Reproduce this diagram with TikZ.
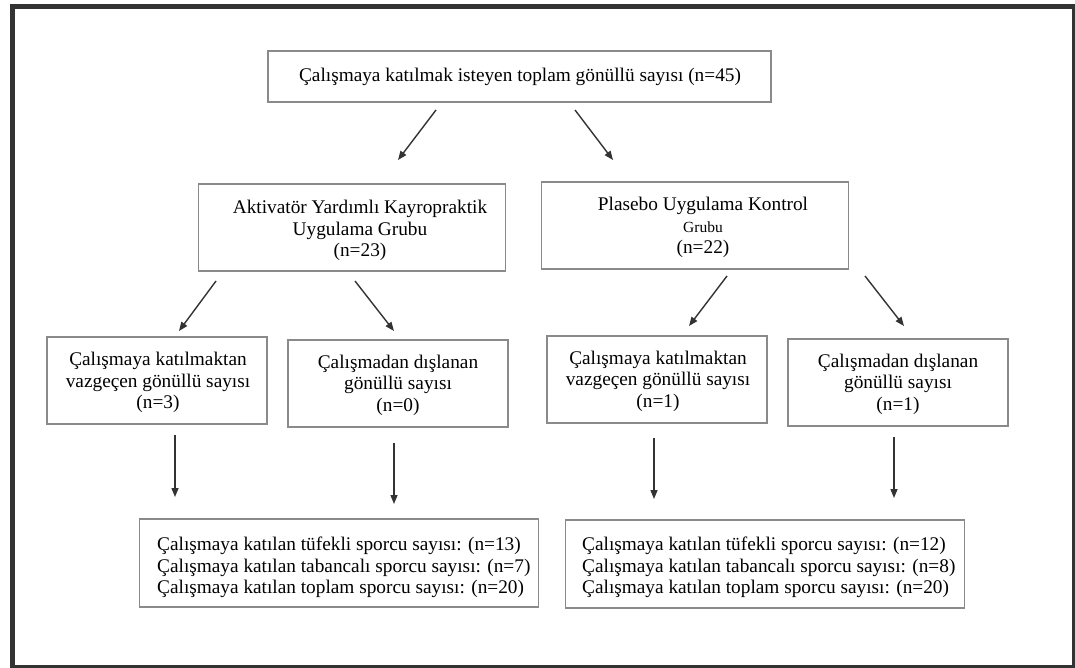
\documentclass[tikz,border=0pt]{standalone}
\usepackage{fontspec}
\setmainfont{Liberation Serif}
\usetikzlibrary{arrows.meta}
\definecolor{boxgray}{HTML}{8A8A8A}
\definecolor{arrowgray}{HTML}{333333}
\definecolor{framegray}{HTML}{333333}
\tikzset{
  boxnode/.style={draw=boxgray, line width=1.4pt, inner sep=0pt, fill=white},
  txt/.style={inner sep=0pt, align=center, font=\fontsize{19.3}{21.5}\selectfont},
  ltxt/.style={inner sep=0pt, align=left, font=\fontsize{19.3}{21.5}\selectfont},
  arr/.style={draw=arrowgray, line width=1.4pt, -{Triangle[length=9pt,width=7pt]}},
}
\begin{document}
\begin{tikzpicture}[x=1pt,y=-1pt]
\useasboundingbox (0,0) rectangle (1075,668);
\begin{scope}
\clip (0,0) rectangle (1075,668);
\fill[white] (0,0) rectangle (1075,668);
\draw[framegray, line width=5pt] (12.5,6.5) rectangle (1074.5,667.5);
\end{scope}

% boxes
\node[boxnode, minimum width=503pt, minimum height=51pt] (top) at (519.5,76.5) {};
\node[boxnode, minimum width=306.5pt, minimum height=87pt] (ga) at (352,227.5) {};
\node[boxnode, minimum width=307pt, minimum height=87pt] (gb) at (695,225.5) {};
\node[boxnode, minimum width=220pt, minimum height=87pt] (a1) at (157,380.5) {};
\node[boxnode, minimum width=220pt, minimum height=87pt] (a2) at (398,383.5) {};
\node[boxnode, minimum width=220pt, minimum height=87pt] (b1) at (657,379.5) {};
\node[boxnode, minimum width=220pt, minimum height=87pt] (b2) at (898,382.5) {};
\node[boxnode, minimum width=398.5pt, minimum height=88pt] (ra) at (339,563) {};
\node[boxnode, minimum width=399pt, minimum height=88pt] (rb) at (765,564) {};

% texts
\node[txt] (toptxt) at (520,77) {Çalışmaya katılmak isteyen toplam gönüllü sayısı (n=45)};
\node[txt] (gatxt) at (360,230.5) {Aktivatör Yardımlı Kayropraktik\\Uygulama Grubu\\(n=23)};
\node[txt] (gbtxt) at (703,227.5) {Plasebo Uygulama Kontrol\\{\fontsize{15.5}{21.5}\selectfont Grubu\hspace*{10pt}}\\(n=22)};
\node[txt] (a1txt) at (158,382.5) {Çalışmaya katılmaktan\\vazgeçen gönüllü sayısı\\(n=3)};
\node[txt] (a2txt) at (398,385) {Çalışmadan dışlanan\\gönüllü sayısı\\(n=0)};
\node[txt] (b1txt) at (658,381) {Çalışmaya katılmaktan\\vazgeçen gönüllü sayısı\\(n=1)};
\node[txt] (b2txt) at (898,384) {Çalışmadan dışlanan\\gönüllü sayısı\\(n=1)};
\node[ltxt, anchor=west] (ratxt) at (157,567.5) {Çalışmaya katılan tüfekli sporcu sayısı: (n=13)\\Çalışmaya katılan tabancalı sporcu sayısı: (n=7)\\Çalışmaya katılan toplam sporcu sayısı: (n=20)};
\node[ltxt, anchor=west] (rbtxt) at (582,567.5) {Çalışmaya katılan tüfekli sporcu sayısı: (n=12)\\Çalışmaya katılan tabancalı sporcu sayısı: (n=8)\\Çalışmaya katılan toplam sporcu sayısı: (n=20)};

% arrow end points
\coordinate (p1s) at (436,110); \coordinate (p1e) at (398,160);
\coordinate (p2s) at (575,110); \coordinate (p2e) at (613,160);
\coordinate (p3s) at (216,281); \coordinate (p3e) at (179,331);
\coordinate (p4s) at (355,281); \coordinate (p4e) at (394,331);
\coordinate (p5s) at (727,276); \coordinate (p5e) at (689,326);
\coordinate (p6s) at (865,276); \coordinate (p6e) at (904,326);
\coordinate (p7s) at (175,435); \coordinate (p7e) at (175,497);
\coordinate (p8s) at (394,443); \coordinate (p8e) at (394,504);
\coordinate (p9s) at (654,438); \coordinate (p9e) at (654,499);
\coordinate (p10s) at (894,437); \coordinate (p10e) at (894,498);

\draw[arr] (p1s) -- (p1e);
\draw[arr] (p2s) -- (p2e);
\draw[arr] (p3s) -- (p3e);
\draw[arr] (p4s) -- (p4e);
\draw[arr] (p5s) -- (p5e);
\draw[arr] (p6s) -- (p6e);
\draw[arr] (p7s) -- (p7e);
\draw[arr] (p8s) -- (p8e);
\draw[arr] (p9s) -- (p9e);
\draw[arr] (p10s) -- (p10e);
\end{tikzpicture}
\end{document}
